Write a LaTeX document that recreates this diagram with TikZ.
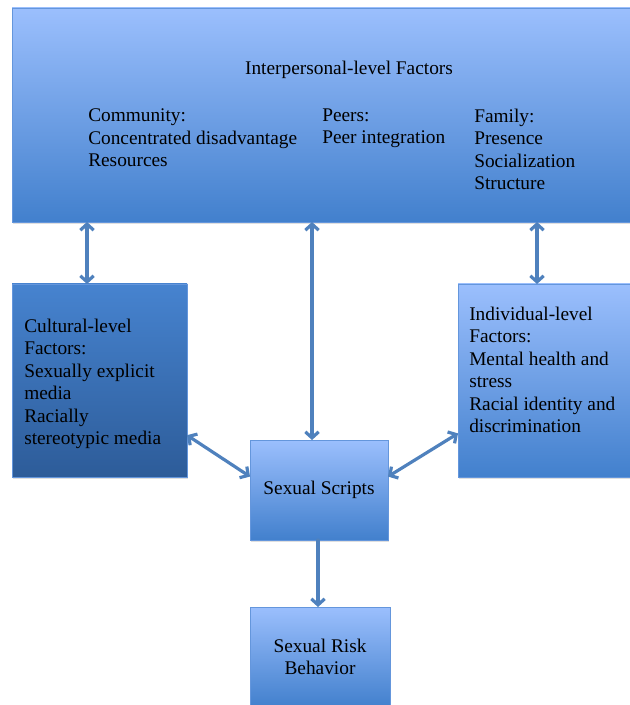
\documentclass[tikz,border=0pt]{standalone}
\usepackage{fontspec}
\setmainfont{Liberation Serif}
\usetikzlibrary{shadows,arrows.meta}

\definecolor{lightblue}{RGB}{155,191,253}
\definecolor{midblue}{RGB}{66,128,205}
\definecolor{darkblue}{RGB}{45,92,153}
\definecolor{edgeblue}{RGB}{100,150,220}
\definecolor{linkblue}{RGB}{79,129,189}

\tikzset{
  panel/.style={draw=edgeblue, line width=0.6pt, inner sep=0pt, outer sep=0pt,
    top color=lightblue, bottom color=midblue,
    drop shadow={shadow xshift=1pt, shadow yshift=-1.5pt, opacity=0.25}},
  darkpanel/.style={panel, top color=midblue!95!lightblue, bottom color=darkblue},
  textblock/.style={inner sep=0pt, align=left, font=\fontsize{14.5}{16.9}\selectfont},
  link/.style={draw=linkblue, line width=2.4pt, line cap=round,
    {Straight Barb[length=4.5pt,width=10pt]}-{Straight Barb[length=4.5pt,width=10pt]}},
  onelink/.style={link, -{Straight Barb[length=4.5pt,width=10pt]}}
}

\begin{document}
\begin{tikzpicture}[x=0.75pt, y=-0.75pt]
		\useasboundingbox (0,0) rectangle (630,705);
		
		% Boxes
		\node[panel, minimum width=622*0.75pt, minimum height=214*0.75pt] (inter) at (323,115) {};
		\node[darkpanel, minimum width=175*0.75pt, minimum height=193*0.75pt] (cul) at (99.5,380.5) {};
		\node[panel, minimum width=176*0.75pt, minimum height=193*0.75pt] (ind) at (546,380.5) {};
		\node[panel, textblock, align=center, minimum width=138*0.75pt, minimum height=100*0.75pt] (scripts) at (319,490) {Sexual Scripts};
		\node[panel, textblock, align=center, minimum width=140*0.75pt, minimum height=100*0.75pt] (risk) at (320,657) {Sexual Risk\\Behavior};
		
		% Labels
		\node[textblock] (title) at (349,70) {Interpersonal-level Factors};
		\node[textblock, anchor=north west] (community) at (88,108.5) {Community:\\Concentrated disadvantage\\Resources};
		\node[textblock, anchor=north west] (peers) at (322,108.5) {Peers:\\Peer integration};
		\node[textblock, anchor=north west] (family) at (474,108.5) {Family:\\Presence\\Socialization\\Structure};
		\node[textblock, anchor=north west] (cultext) at (24,318.5) {Cultural-level\\Factors:\\Sexually explicit\\media\\Racially\\stereotypic media};
		\node[textblock, anchor=north west] (indtext) at (469,306.5) {Individual-level\\Factors:\\Mental health and\\stress\\Racial identity and\\discrimination};
		
		% Arrows
		\draw[link] (inter.south -| 87,0) -- (cul.north -| 87,0);
		\draw[link] (inter.south -| 312,0) -- (scripts.north -| 312,0);
		\draw[link] (inter.south -| 537,0) -- (ind.north -| 537,0);
		\draw[link] (cul.-32) -- (scripts.169);
		\draw[link] (ind.211) -- (scripts.11);
		\draw[onelink] (scripts.south -| 318,0) -- (risk.north -| 318,0);
		
		\end{tikzpicture}
\end{document}
